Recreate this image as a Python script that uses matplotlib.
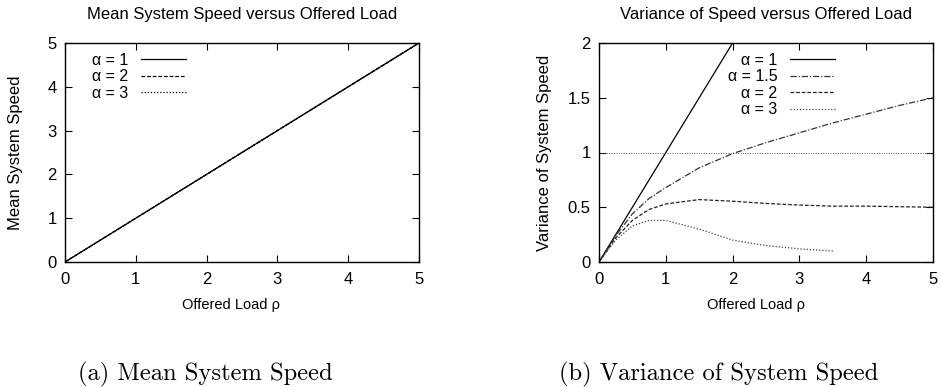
import matplotlib
matplotlib.use("Agg")
import matplotlib.pyplot as plt

plt.rcParams['font.family'] = ['Liberation Sans', 'DejaVu Sans']

# ---- data ----
rho_mean = [0, 1, 2, 3, 4, 5]
mean_a1 = [0, 1, 2, 3, 4, 5]
mean_a2 = [0, 1, 2, 3, 4, 5]
mean_a3 = [0, 1, 2, 3, 4, 5]

rho_var = [0, 0.25, 0.5, 0.75, 1, 1.5, 2, 2.5, 3, 3.5, 4, 4.5, 5]
var_a1 = [0, 0.25, 0.5, 0.75, 1, 1.5, 2, 2.5, 3, 3.5, 4, 4.5, 5]
var_a15 = [0, 0.24, 0.44, 0.58, 0.68, 0.86, 0.99, 1.09, 1.18, 1.27, 1.35, 1.43, 1.50]
var_a2 = [0, 0.22, 0.38, 0.48, 0.53, 0.57, 0.555, 0.535, 0.52, 0.51, 0.51, 0.505, 0.50]
rho_var3 = [0, 0.25, 0.5, 0.75, 1, 1.5, 2, 2.5, 3, 3.5]
var_a3 = [0, 0.20, 0.33, 0.38, 0.38, 0.30, 0.20, 0.15, 0.12, 0.10]
ref_level = 1.0

xticks = [0, 1, 2, 3, 4, 5]
yticks_mean = [0, 1, 2, 3, 4, 5]
yticks_var = [0, 0.5, 1, 1.5, 2]
ytick_labels_var = ['0', '0.5', '1', '1.5', '2']

W, H = 941, 387
fig = plt.figure(figsize=(W / 100, H / 100), dpi=100)

ax1 = fig.add_axes([65 / W, 1 - 262 / H, 354 / W, 219 / H])
ax2 = fig.add_axes([599 / W, 1 - 262 / H, 334 / W, 219 / H])

lw = 0.9
ax1.plot(rho_mean, mean_a1, color='black', lw=lw, ls='-', label='α = 1')
ax1.plot(rho_mean, mean_a2, color='black', lw=lw, ls=(0, (3, 1.5)), label='α = 2')
ax1.plot(rho_mean, mean_a3, color='black', lw=lw, ls=(0, (1, 1.5)), label='α = 3')

ax2.plot(rho_var, var_a1, color='black', lw=lw, ls='-', label='α = 1')
ax2.plot(rho_var, var_a15, color='#333333', lw=lw, ls=(0, (5, 1.5, 1, 1.5)), label='α = 1.5')
ax2.plot(rho_var, var_a2, color='#222222', lw=lw, ls=(0, (3, 1.5)), label='α = 2')
ax2.plot(rho_var3, var_a3, color='#444444', lw=lw, ls=(0, (1, 1.5)), label='α = 3')
ax2.axhline(ref_level, color='#555555', lw=0.7, ls=(0, (1, 1.5)))

for ax, yt in ((ax1, yticks_mean), (ax2, yticks_var)):
    ax.set_xlim(0, 5)
    ax.set_xticks(xticks)
    ax.set_yticks(yt)
    ax.set_ylim(yt[0], yt[-1])
    ax.tick_params(direction='in', top=True, right=True, length=5, width=0.8,
                   labelsize=12)
    ax.tick_params(axis='x', pad=7)
    ax.tick_params(axis='y', pad=6)
    for s in ax.spines.values():
        s.set_linewidth(1.0)
    ax.set_xlabel('Offered Load ρ', fontsize=10.5)

ax1.xaxis.set_label_coords(0.47, -0.165)
ax2.xaxis.set_label_coords(0.47, -0.165)
ax2.set_yticklabels(ytick_labels_var)

ax1.set_ylabel('Mean System Speed', fontsize=12)
ax2.set_ylabel('Variance of System Speed', fontsize=12)
ax1.yaxis.set_label_coords(-42 / 354, 0.5)
ax2.yaxis.set_label_coords(-47 / 334, 0.5)
ax1.set_title('Mean System Speed versus Offered Load', fontsize=12, pad=17)
ax2.set_title('Variance of Speed versus Offered Load', fontsize=12, pad=17)

leg1 = ax1.legend(loc='upper left', frameon=False, markerfirst=False, fontsize=11.5,
                  handlelength=2.8, handletextpad=0.8, labelspacing=0.1,
                  borderaxespad=0.2, bbox_to_anchor=(0.05, 1.0))
leg2 = ax2.legend(loc='upper right', frameon=False, markerfirst=False, fontsize=11.5,
                  handlelength=2.8, handletextpad=0.8, labelspacing=0.1,
                  borderaxespad=0.2, bbox_to_anchor=(0.735, 1.0))

fig.text(205 / W, 1 - 374 / H, '(a) Mean System Speed', family=['cmr10', 'DejaVu Serif'],
         fontsize=17.7, ha='center', va='center')
fig.text(719 / W, 1 - 374 / H, '(b) Variance of System Speed', family=['cmr10', 'DejaVu Serif'],
         fontsize=17.7, ha='center', va='center')

fig.savefig('out.png', dpi=100)
